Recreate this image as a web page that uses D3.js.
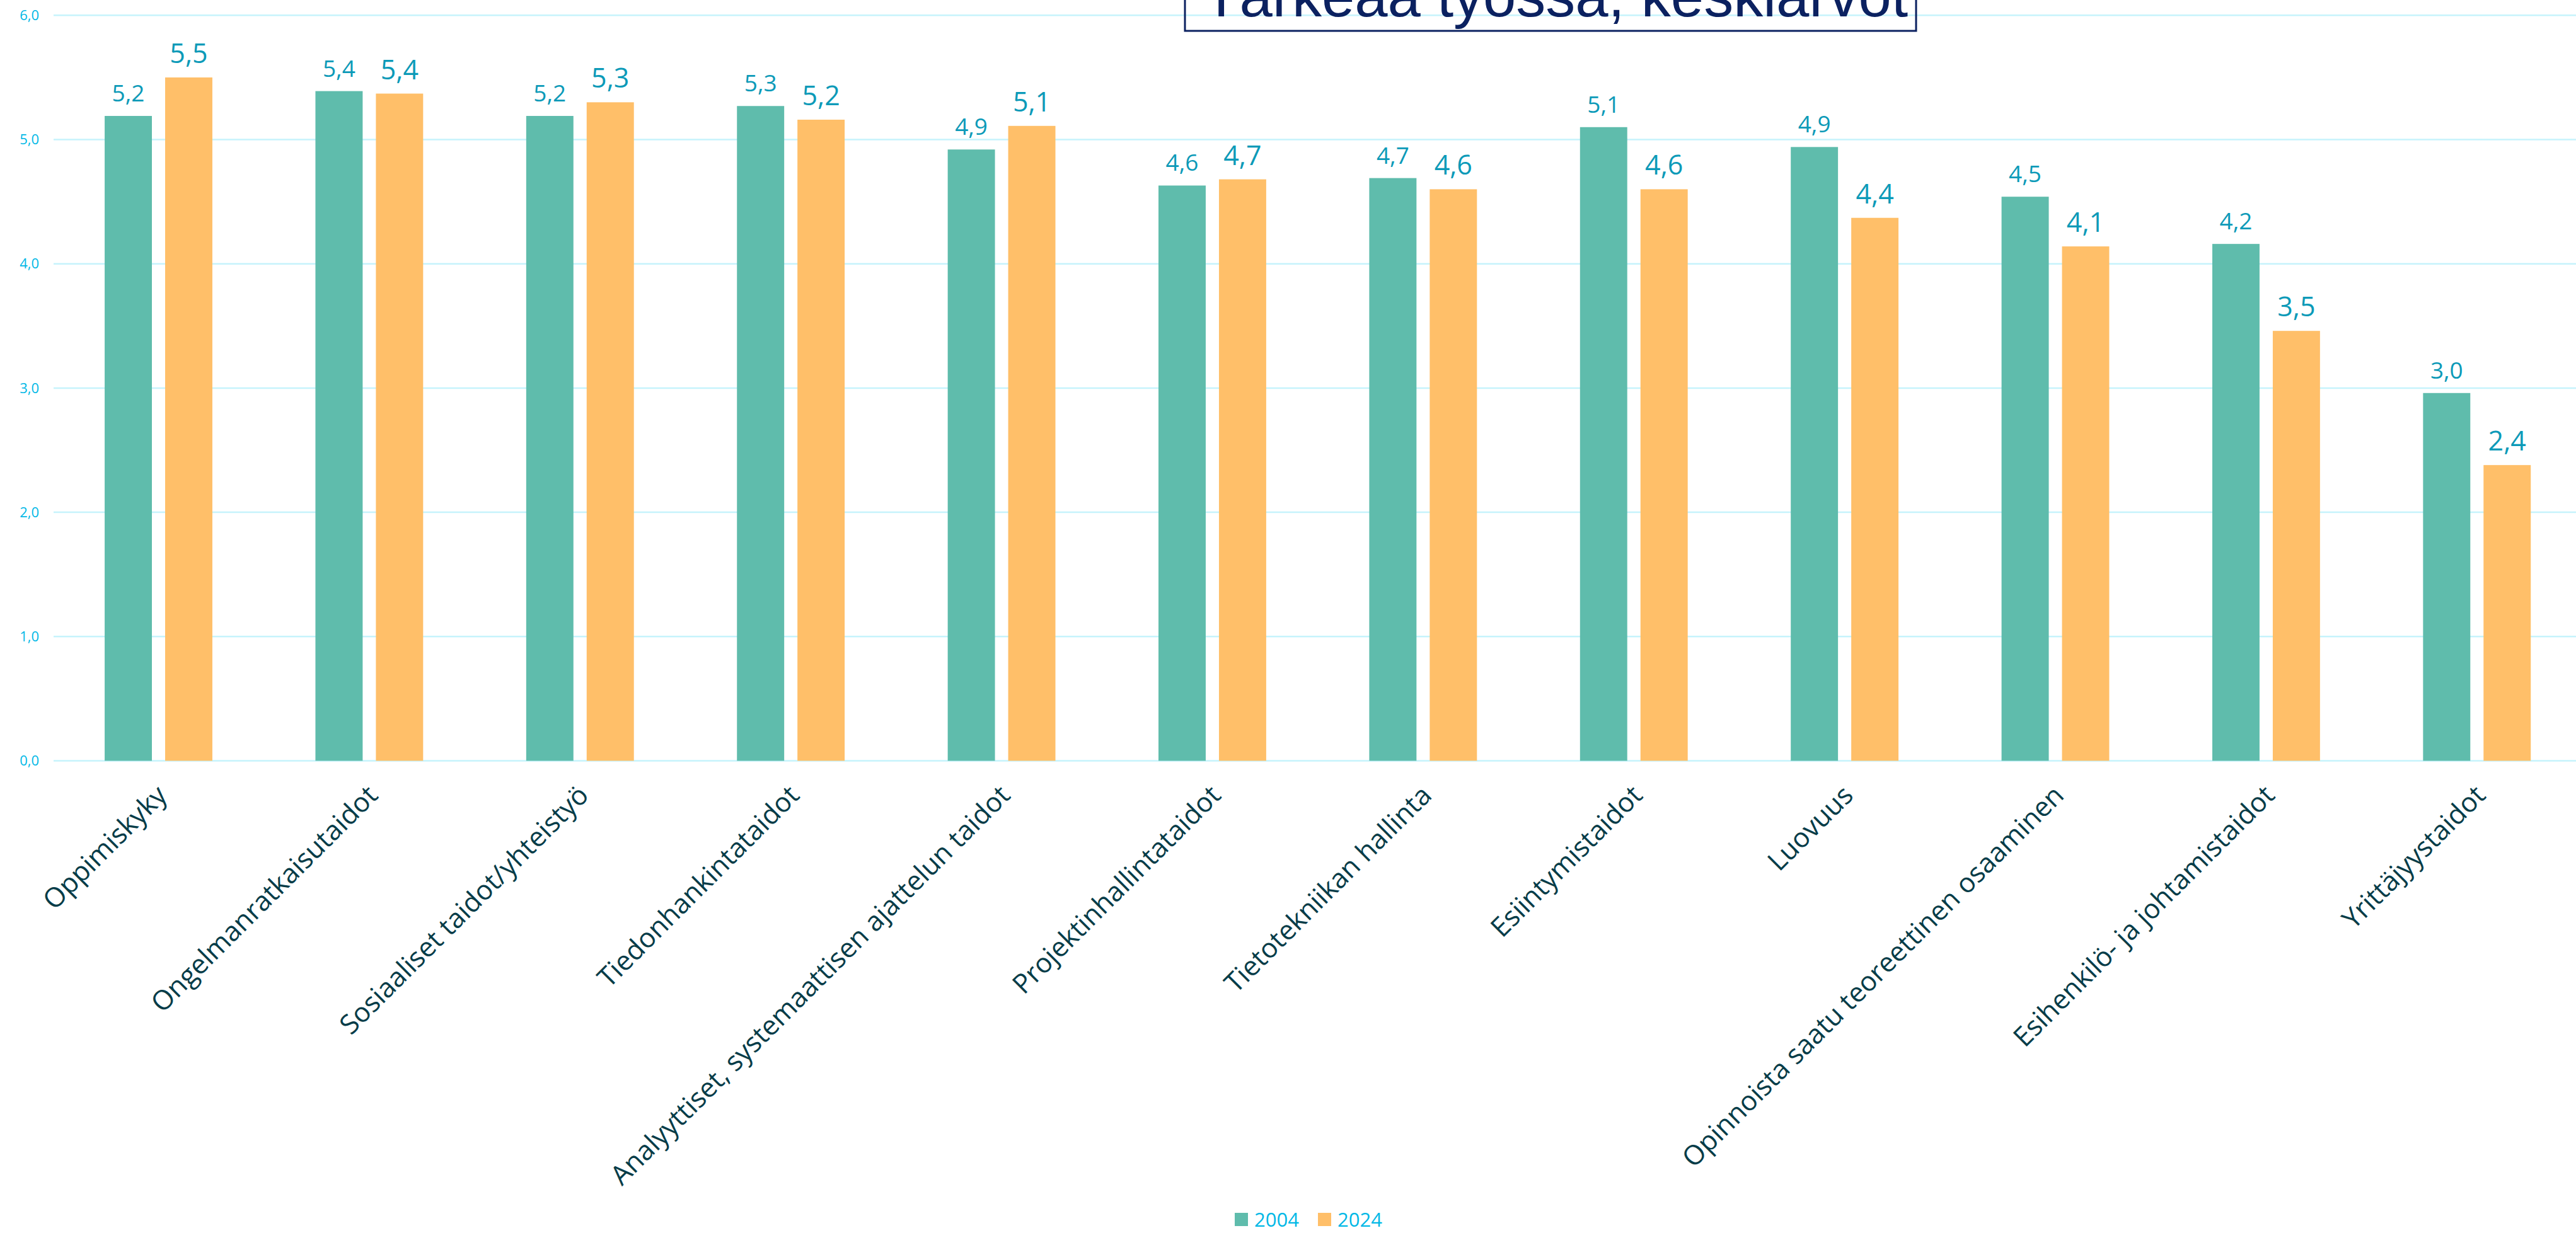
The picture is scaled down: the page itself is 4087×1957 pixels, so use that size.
<html>
  <head>
    <title>Tärkeää työssä, keskiarvot</title>
    <script src="https://d3js.org/d3.v7.min.js"></script>
    <style>
      body { margin: 0; background: #fff; }
      svg { display: block; }
    </style>
  </head>
  <body>
    <svg id="chart" width="4087" height="1957"></svg>

    <script>
      // data
      const categories = [
        "Oppimiskyky",
        "Ongelmanratkaisutaidot",
        "Sosiaaliset taidot/yhteistyö",
        "Tiedonhankintataidot",
        "Analyyttiset, systemaattisen ajattelun taidot",
        "Projektinhallintataidot",
        "Tietotekniikan hallinta",
        "Esiintymistaidot",
        "Luovuus",
        "Opinnoista saatu teoreettinen osaaminen",
        "Esihenkilö- ja johtamistaidot",
        "Yrittäjyystaidot"
      ];
      const years = ["2004", "2024"];
      const values2004 = [5.19, 5.39, 5.19, 5.27, 4.92, 4.63, 4.69, 5.10, 4.94, 4.54, 4.16, 2.96];
      const values2024 = [5.50, 5.37, 5.30, 5.16, 5.11, 4.68, 4.60, 4.60, 4.37, 4.14, 3.46, 2.38];
      const yTicks = [0, 1, 2, 3, 4, 5, 6];
      const colors = ["#5fbcac", "#ffbf69"];

      const svg = d3.select("#chart");
      const width = +svg.attr("width");

      const fmt = (v) => d3.format(".1f")(v).replace(".", ",");

      const x0 = d3.scaleBand()
        .domain(categories)
        .range([84.3, 4097])
        .paddingInner(0.489)
        .paddingOuter(0.2445);
      const x1 = d3.scaleBand()
        .domain(years)
        .range([0, x0.bandwidth()])
        .paddingInner(0.219);
      const y = d3.scaleLinear().domain([0, 6]).range([1207.5, 24.3]);

      // gridlines + y labels
      const grid = svg.append("g");
      grid.selectAll("line")
        .data(yTicks)
        .join("line")
        .attr("x1", 85)
        .attr("x2", width)
        .attr("y1", (d) => y(d))
        .attr("y2", (d) => y(d))
        .attr("stroke", "#c6f3fc")
        .attr("stroke-width", 2.5);
      grid.selectAll("text")
        .data(yTicks)
        .join("text")
        .attr("x", 62)
        .attr("y", (d) => y(d))
        .attr("dy", "0.35em")
        .attr("text-anchor", "end")
        .attr("font-family", "Open Sans")
        .attr("font-size", 22)
        .attr("fill", "#00b8e6")
        .text((d) => fmt(d));

      // title box (cut off at the top, as in the original)
      svg.append("rect")
        .attr("x", 1880)
        .attr("y", -80)
        .attr("width", 1160)
        .attr("height", 129)
        .attr("fill", "none")
        .attr("stroke", "#0b2160")
        .attr("stroke-width", 3);
      svg.append("text")
        .attr("x", 2468)
        .attr("y", 26)
        .attr("text-anchor", "middle")
        .attr("font-family", "Liberation Sans")
        .attr("font-size", 94)
        .attr("fill", "#0b2160")
        .text("Tärkeää työssä, keskiarvot");

      // bars
      const series = [values2004, values2024];
      const labelSize = [37, 43];
      const groups = svg.append("g")
        .selectAll("g")
        .data(categories)
        .join("g")
        .attr("transform", (d) => "translate(" + x0(d) + ",0)");

      groups.selectAll("rect")
        .data((d, i) => years.map((yr, j) => ({ yr: yr, j: j, v: series[j][i] })))
        .join("rect")
        .attr("x", (d) => x1(d.yr))
        .attr("y", (d) => y(d.v))
        .attr("width", x1.bandwidth())
        .attr("height", (d) => y(0) - y(d.v))
        .attr("fill", (d) => colors[d.j]);

      groups.selectAll("text.val")
        .data((d, i) => years.map((yr, j) => ({ yr: yr, j: j, v: series[j][i] })))
        .join("text")
        .attr("class", "val")
        .attr("x", (d) => x1(d.yr) + x1.bandwidth() / 2)
        .attr("y", (d) => y(d.v) - 23)
        .attr("text-anchor", "middle")
        .attr("font-family", "Open Sans")
        .attr("font-size", (d) => labelSize[d.j])
        .attr("fill", "#0c9ab8")
        .text((d) => fmt(d.v));

      // category labels, rotated
      svg.append("g")
        .selectAll("text")
        .data(categories)
        .join("text")
        .attr("transform", (d) =>
          "translate(" + (x0(d) + x0.bandwidth() / 2 + 16) + ",1265) rotate(-45)")
        .attr("text-anchor", "end")
        .attr("font-family", "Open Sans")
        .attr("font-size", 43)
        .attr("fill", "#063c48")
        .text((d) => d);

      // legend
      const legendX = [1959, 2091];
      const legend = svg.append("g")
        .selectAll("g")
        .data(years)
        .join("g")
        .attr("transform", (d, i) => "translate(" + legendX[i] + ",1925)");
      legend.append("rect")
        .attr("width", 21)
        .attr("height", 21)
        .attr("fill", (d, i) => colors[i]);
      legend.append("text")
        .attr("x", 31)
        .attr("y", 22)
        .attr("font-family", "Open Sans")
        .attr("font-size", 31)
        .attr("fill", "#00b8e6")
        .text((d) => d);
    </script>
  </body>
</html>
